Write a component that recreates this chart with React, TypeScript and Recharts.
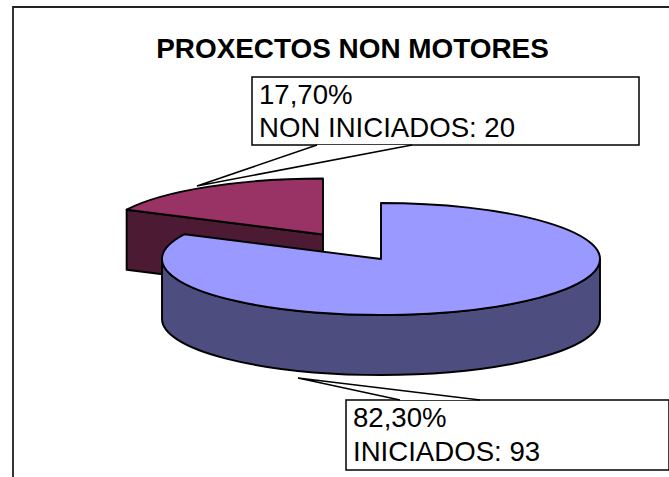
import React from "react";
import { PieChart, Pie, Cell } from "recharts";

const categories = ["NON INICIADOS", "INICIADOS"];
const values = [20, 93];
const topColors = ["#993366", "#9999FF"];
const sideColors = ["#4D1A33", "#4D4D80"];

const data = categories.map((name, i) => ({ name, value: values[i] }));

// blue slice starts at 12 o'clock, so the red one sits just before it
const START_ANGLE = 90 + (360 * values[0]) / (values[0] + values[1]);

const RY_RATIO = 56 / 219;
const DEPTH = 60;
const RAD = Math.PI / 180;
const FONT = "Liberation Sans, Arial, sans-serif";

// exploded offset and callout geometry for each slice
const sliceOffset: Record<string, number[]> = {
  "NON INICIADOS": [-58, -24.5],
  INICIADOS: [0, 0],
};
const callouts: Record<string, any> = {
  "NON INICIADOS": { x: 252, y: 77, w: 387, h: 68, tip: [197, 186], base: [317, 412], lines: [27, 60] },
  INICIADOS: { x: 346, y: 400, w: 323, h: 70, tip: [298, 378], base: [400, 480], lines: [27, 61] },
};

const fmtPct = (p: number) => (p * 100).toFixed(2).replace(".", ",") + "%";

function Slice3D(props: any) {
  const { cx, cy, outerRadius, startAngle, endAngle, fill, name, index } = props;
  const [dx, dy] = sliceOffset[name] || [0, 0];
  const x0 = cx + dx;
  const y0 = cy + dy;
  const rx = outerRadius;
  const ry = outerRadius * RY_RATIO;
  const pt = (a: number) => [x0 + rx * Math.cos(a * RAD), y0 - ry * Math.sin(a * RAD)];
  const [sx, sy] = pt(startAngle);
  const [ex, ey] = pt(endAngle);
  const large = Math.abs(startAngle - endAngle) > 180 ? 1 : 0;
  const top = `M${x0},${y0} L${sx},${sy} A${rx},${ry} 0 ${large} 1 ${ex},${ey} Z`;

  const side = sideColors[index];
  const walls: string[] = [];
  if (Math.cos(startAngle * RAD) < -0.001) {
    walls.push(`M${sx},${sy} L${x0},${y0} V${y0 + DEPTH} L${sx},${sy + DEPTH} Z`);
  }
  if (Math.cos(endAngle * RAD) > 0.001) {
    walls.push(`M${ex},${ey} L${x0},${y0} V${y0 + DEPTH} L${ex},${ey + DEPTH} Z`);
  }
  // only the front half of the rim can be seen
  const from = Math.min(startAngle, 0);
  const to = Math.max(endAngle, -180);
  let rim = "";
  if (from > to) {
    const [ax, ay] = pt(from);
    const [bx, by] = pt(to);
    rim = `M${ax},${ay} A${rx},${ry} 0 0 1 ${bx},${by} V${by + DEPTH} A${rx},${ry} 0 0 0 ${ax},${ay + DEPTH} Z`;
  }

  return (
    <g stroke="#000000" strokeWidth={1.9} strokeLinejoin="round">
      {walls.map((d, i) => (
        <path key={i} d={d} fill={side} />
      ))}
      {rim && <path d={rim} fill={side} />}
      <path d={top} fill={fill} />
    </g>
  );
}

function Callout(props: any) {
  const { name, value, percent } = props;
  const c = callouts[name];
  if (!c) return null;
  const isTop = c.tip[1] > c.y + c.h;
  const edge = isTop ? c.y + c.h : c.y;
  return (
    <g fontFamily={FONT} fontSize={27.6} fill="#000000">
      <rect x={c.x} y={c.y} width={c.w} height={c.h} fill="#FFFFFF" stroke="#000000" strokeWidth={1.5} />
      <path
        d={`M${c.base[0]},${edge} L${c.tip[0]},${c.tip[1]} L${c.base[1]},${edge}`}
        fill="#FFFFFF"
        stroke="#000000"
        strokeWidth={1.5}
      />
      <text x={c.x + 7} y={c.y + c.lines[0]} stroke="none">
        {fmtPct(percent)}
      </text>
      <text x={c.x + 7} y={c.y + c.lines[1]} stroke="none">
        {`${name}: ${value}`}
      </text>
    </g>
  );
}

export default function App() {
  return (
    <div
      style={{
        position: "absolute",
        left: 0,
        top: 0,
        width: 669,
        height: 477,
        background: "#FFFFFF",
        overflow: "hidden",
      }}
    >
      <div
        style={{
          position: "absolute",
          left: 12,
          top: 6,
          width: 670,
          height: 480,
          borderLeft: "2px solid #333",
          borderTop: "2px solid #222",
        }}
      />
      <div style={{ position: "absolute", left: 0, top: 0 }}>
        <PieChart width={669} height={477} margin={{ top: 0, right: 0, bottom: 0, left: 0 }}>
          <text
            x={352.5}
            y={58}
            textAnchor="middle"
            fontFamily={FONT}
            fontSize={27.9}
            fontWeight="bold"
            fill="#000000"
          >
            PROXECTOS NON MOTORES
          </text>
          <Pie
            data={data}
            dataKey="value"
            nameKey="name"
            cx={381}
            cy={259}
            outerRadius={219}
            startAngle={START_ANGLE}
            endAngle={START_ANGLE - 360}
            paddingAngle={0}
            isAnimationActive={false}
            shape={Slice3D}
            label={Callout}
            labelLine={false}
          >
            {categories.map((c, i) => (
              <Cell key={c} fill={topColors[i]} />
            ))}
          </Pie>
        </PieChart>
      </div>
    </div>
  );
}
